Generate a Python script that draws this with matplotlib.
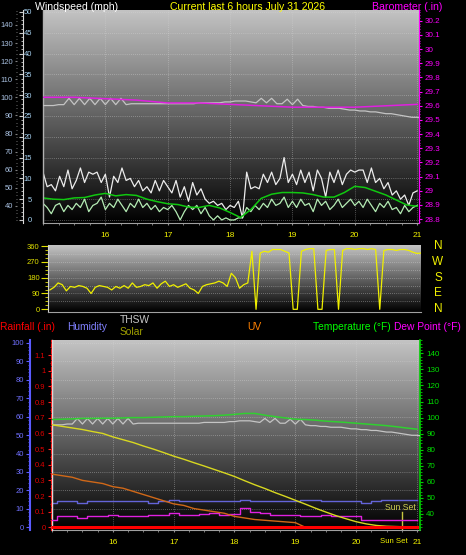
import numpy as np
import matplotlib
matplotlib.use('Agg')
import matplotlib.pyplot as plt
from matplotlib.ticker import MultipleLocator, FixedLocator, FuncFormatter
from matplotlib.colors import LinearSegmentedColormap
import matplotlib.transforms as mtransforms

plt.rcParams['font.family'] = ['Liberation Sans', 'DejaVu Sans']

# ---------------- data ----------------
title_left = 'Windspeed (mph)'
title_mid = 'Current last 6 hours July 31 2026'
title_right = 'Barometer (.in)'

hour_ticks = [16, 17, 18, 19, 20, 21]
hour_labels = ['16', '17', '18', '19', '20', '21']
sunset_time = 20.76
start_hour = 15.0

compass_labels = ['N', 'W', 'S', 'E', 'N']
compass_deg = [360, 270, 180, 90, 0]

# 4-minute samples
wind_gust = [11.5, 8, 8.5, 7, 10.5, 8, 12, 7.5, 9.5, 12.5, 9, 11.5, 11, 11.5, 9,
             11, 5.5, 10.5, 9, 12.5, 9.5, 10, 8, 9.5, 7, 8, 6.5, 9.5, 7, 9.5,
             8, 6.5, 9.5, 5.5, 8, 4.5, 9, 6, 7.5, 5, 4, 4.5, 3.5, 4, 2.5,
             3.5, 3, 4.5, 0.5, 11.5, 7.5, 8, 7.5, 11, 9, 11.5, 8.5, 10, 15, 9,
             11, 8.5, 12, 9, 11.5, 7, 12, 10, 5.5, 11.5, 9, 12, 8.5, 11, 12,
             11.5, 12, 12, 9, 12.5, 9, 10, 7.5, 9, 6, 7, 5, 6, 3.5, 6.5, 7]
wind_speed = [4, 3, 1.5, 3.5, 4, 2, 3.5, 2.5, 4, 3, 5, 2, 3.5, 4, 5.5,
              2.5, 4, 3, 5, 3.5, 2, 4, 3, 5, 3, 4, 2.5, 3.5, 2, 3,
              2.5, 3.5, 2, 0, 2, 3.5, 2.5, 3.5, 1.5, 3, 1, 0, 1, 0, 0.5,
              0, 0, 0.5, 0.5, 3, 2, 3.5, 2.5, 4, 3, 5, 3.5, 4, 5.5, 3,
              4.5, 3, 5, 3.5, 4, 2, 5, 3.5, 4.5, 2.5, 3.5, 5, 3, 4, 5,
              3.5, 4.5, 3, 5, 3.5, 2, 4, 3, 4.5, 2.5, 3, 1.5, 3.5, 2, 3, 3.5]
wind_dir = [110, 125, 150, 140, 105, 130, 125, 135, 130, 120, 90, 125, 135, 130, 125,
            110, 130, 120, 135, 120, 150, 125, 130, 140, 135, 150, 120, 145, 160, 130,
            140, 125, 135, 145, 120, 110, 90, 130, 140, 145, 150, 160, 150, 130, 205,
            180, 120, 140, 150, 330, 0, 320, 330, 325, 340, 340, 340, 330, 320, 0,
            0, 330, 340, 345, 345, 0, 0, 335, 340, 340, 0, 335, 345, 345, 340,
            345, 345, 340, 345, 340, 0, 335, 340, 340, 335, 340, 340, 335, 325, 318, 320]

# 10-minute samples
wind_avg = [5.3, 5.0, 4.9, 5.3, 5.4, 6.0, 6.4, 5.8, 6.1, 5.9, 5.0, 4.4, 3.9, 3.7, 3.1,
            3.0, 3.5, 2.9, 1.8, 0.6, 2.5, 5.2, 6.2, 6.6, 6.6, 6.5, 6.1, 5.5, 5.5, 6.6,
            8.1, 7.8, 6.9, 6.0, 4.8, 3.6, 3.3]
temperature = [98.8, 99.0, 99.2, 99.5, 99.5, 99.6, 99.6, 99.8, 100.0, 100.0, 100.2, 100.4,
               100.6, 100.6, 100.8, 101.0, 101.2, 101.5, 102.0, 102.6, 102.6, 101.5, 100.6,
               99.8, 99.0, 98.8, 98.4, 97.8, 97.4, 97.0, 96.5, 96.0, 95.5, 95.0, 94.3, 93.5, 92.8]
solar = [655, 645, 635, 625, 612, 600, 578, 560, 542, 520, 500, 478, 455, 435, 413, 392,
         370, 348, 325, 298, 272, 248, 222, 198, 173, 148, 122, 98, 75, 55, 36, 22, 12,
         7, 5, 3, 2]
uv_index = [3.4, 3.3, 3.2, 3.0, 2.9, 2.8, 2.6, 2.5, 2.3, 2.1, 1.9, 1.7, 1.5, 1.4, 1.2, 1.1,
            1.0, 0.9, 0.7, 0.6, 0.5, 0.45, 0.4, 0.35, 0.3, 0, 0, 0, 0, 0, 0, 0, 0, 0, 0, 0, 0]
humidity = [13, 14, 14, 13, 14, 14, 14, 14, 14, 14, 13, 14, 15, 14, 14, 14, 14, 14, 14,
            15, 14, 14, 14, 14, 14, 15, 15, 14, 14, 14, 14, 13, 14, 15, 15, 15, 15]
dew_point = [36.5, 38.5, 38.5, 37.5, 38.5, 39.0, 39.5, 39.0, 39.0, 39.0, 39.5, 39.5, 40.5,
             39.5, 39.5, 40.0, 40.5, 39.5, 40.0, 43.5, 41.0, 40.5, 39.5, 39.5, 39.5, 39.0,
             39.0, 39.5, 39.0, 38.5, 38.5, 36.5, 36.0, 36.0, 36.0, 36.5, 36.5]

# 30-minute samples
barometer = [29.66, 29.66, 29.65, 29.64, 29.62, 29.62, 29.61, 29.60, 29.59, 29.59,
             29.59, 29.60, 29.61]

# 5-minute samples
thsw = [95.5, 95.5, 95.5, 96, 96, 99.5, 96, 99.5, 96, 99.5, 96, 99.5, 96,
        99.5, 96, 99.5, 96, 96.5, 96.5, 96.5, 96.5, 96.5, 96.5, 96.5, 96.5,
        96.5, 96.5, 96.5, 96.5, 96.5, 97, 97, 97, 97, 97, 97.5, 97.5,
        98, 98, 98, 97.5, 97, 99.5, 97, 99.5, 96.5, 96.5, 99, 96,
        99, 95.5, 95, 95, 94.5, 94.5, 94, 94, 94, 93.5, 93, 93, 92.5,
        92.5, 92, 92, 91.5, 91, 91, 90.5, 90, 89.5, 89, 89, 88.5]

# hourly
rain_hours = [15, 16, 17, 18, 19, 20, 21]
rainfall = [0, 0, 0, 0, 0, 0, 0]

t4 = start_hour + np.arange(len(wind_gust)) * 4 / 60
t5 = start_hour + np.arange(len(thsw)) * 5 / 60
t10 = start_hour + np.arange(len(wind_avg)) * 10 / 60
t30 = start_hour + np.arange(len(barometer)) * 30 / 60

# ---------------- figure ----------------
W, H = 466, 555
PT = 0.72  # points per pixel at 100 dpi
fig = plt.figure(figsize=(W / 100, H / 100), dpi=100)
fig.patch.set_facecolor('black')


def rect(x0, y0, x1, y1):
    return [x0 / W, 1 - y1 / H, (x1 - x0) / W, (y1 - y0) / H]


bg_cmap = LinearSegmentedColormap.from_list('bg', ['#000000', '#c4c4c4'])


def add_bg(ax):
    g = np.linspace(0, 1, 256).reshape(-1, 1)
    ax.imshow(g, extent=[0, 1, 0, 1], transform=ax.transAxes, origin='lower',
              aspect='auto', cmap=bg_cmap, zorder=0, interpolation='bilinear')


def left_frame(ax, color):
    ax.plot([0, 0], [0, 1], transform=ax.transAxes, color=color, lw=1.0,
            clip_on=False, zorder=6)


GRID = dict(color='#d8d8d8', lw=0.5, ls=(0, (1, 2)), alpha=0.7)
TFS = 5.5
fmt_g = FuncFormatter(lambda v, p: f'{round(v, 2):g}')

# ---- panel 1 : wind speed / barometer ----
ax1 = fig.add_axes(rect(43, 9.5, 419, 223.3))
ax1.set_facecolor('black')
add_bg(ax1)
ax1.plot(t4, wind_speed, color='#b4ecb4', lw=0.9, zorder=3)
ax1.plot(t4, wind_gust, color='#ececec', lw=0.9, zorder=3)
ax1.plot(t10, wind_avg, color='#10c810', lw=1.1, zorder=4)
ax1.set_xlim(15.0, 21.03)
ax1.set_ylim(-0.8, 50.6)
ax1.xaxis.set_major_locator(FixedLocator(hour_ticks))
ax1.set_xticklabels(hour_labels)
ax1.xaxis.set_minor_locator(MultipleLocator(0.25))
ax1.yaxis.set_major_locator(MultipleLocator(5))
ax1.yaxis.set_minor_locator(MultipleLocator(1))
ax1.grid(True, which='major', **GRID)
for s in ['top', 'right']:
    ax1.spines[s].set_visible(False)
ax1.spines['left'].set_position(('outward', 20 * PT))
ax1.spines['left'].set_color('#d8d8d8')
ax1.spines['bottom'].set_color('#a0a0a0')
ax1.tick_params(axis='x', which='both', colors='#909090', labelcolor='#f0f000',
                labelsize=6, length=1.5, pad=4.5)
ax1.tick_params(axis='y', which='major', colors='#c8c8c8', labelcolor='#a8d4f4',
                labelsize=TFS, length=3, direction='out', pad=-9.5)
ax1.tick_params(axis='y', which='minor', colors='#c8c8c8', length=1.5, direction='out')
left_frame(ax1, '#b0b0b0')

ax1b = ax1.twinx()
ax1b.plot(t5, thsw, color='#c4c4c4', lw=0.9, zorder=3)
ax1b.set_ylim(30.44, 148.56)
ax1b.yaxis.tick_left()
ax1b.spines['left'].set_position(('outward', 26 * PT))
for s in ax1b.spines.values():
    s.set_visible(False)
ax1b.yaxis.set_major_locator(MultipleLocator(10))
ax1b.yaxis.set_minor_locator(MultipleLocator(2))
ax1b.tick_params(axis='y', which='major', colors='#808080', labelcolor='#a8c0e0',
                 labelsize=TFS, length=1.5, pad=1.5)
ax1b.tick_params(axis='y', which='minor', colors='#808080', length=1)

ax1c = ax1.twinx()
ax1c.plot(t30, barometer, color='#e020e0', lw=1.1, zorder=4)
ax1c.set_ylim(28.77, 30.28)
for s in ['left', 'top', 'bottom']:
    ax1c.spines[s].set_visible(False)
ax1c.spines['right'].set_color('#ff00ff')
ax1c.yaxis.set_major_locator(MultipleLocator(0.1))
ax1c.yaxis.set_minor_locator(MultipleLocator(0.02))
ax1c.yaxis.set_major_formatter(fmt_g)
ax1c.tick_params(axis='y', which='major', colors='#ff00ff', labelcolor='#ff00ff',
                 labelsize=5.8, length=2, pad=2)
ax1c.tick_params(axis='y', which='minor', colors='#ff00ff', length=1)

fig.text(35 / W, 1 - 9.5 / H, title_left, color='white', fontsize=7.6, ha='left', va='baseline')
fig.text(248 / W, 1 - 9.5 / H, title_mid, color='#ffff00', fontsize=7.6, ha='center', va='baseline')
fig.text(372 / W, 1 - 9.5 / H, title_right, color='#ff00ff', fontsize=7.6, ha='left', va='baseline')

# ---- panel 2 : wind direction ----
ax2 = fig.add_axes(rect(48, 245, 421, 311.7))
ax2.set_facecolor('black')
add_bg(ax2)
ax2.plot(t4, wind_dir, color='#f0f000', lw=0.9, zorder=3)
ax2.set_xlim(14.97, 21.0)
ax2.set_ylim(-13.6, 365.7)
ax2.set_yticks([0, 90, 180, 270, 360])
ax2.yaxis.set_minor_locator(MultipleLocator(22.5))
ax2.set_xticks([])
for lvl in [45, 90, 135, 180, 225, 270, 315]:
    ax2.axhline(lvl, **GRID)
for s in ['top', 'right']:
    ax2.spines[s].set_visible(False)
ax2.spines['left'].set_color('#d0d0d0')
ax2.spines['bottom'].set_color('#a0a0a0')
ax2.tick_params(axis='y', which='major', colors='#e0e000', labelcolor='#e0e000',
                labelsize=TFS, length=5, pad=1)
ax2.tick_params(axis='y', which='minor', colors='#e0e000', length=2.5)
btr = mtransforms.blended_transform_factory(ax2.transAxes, ax2.transData)
for lab, deg in zip(compass_labels, compass_deg):
    ax2.text(1.0456, deg, lab, transform=btr, color='#f0f000', fontsize=8.5,
             ha='center', va='center', clip_on=False)

# ---- panel 3 : temperature, humidity, rain, solar, uv ----
ax3 = fig.add_axes(rect(52, 340, 420, 530))
ax3.set_facecolor('black')
add_bg(ax3)
ax3.plot(t10, humidity, color='#6464d8', lw=1.0, drawstyle='steps-mid', zorder=3)
ax3.set_xlim(15.0, 21.05)
ax3.set_ylim(-1.5, 101.6)
ax3.xaxis.set_major_locator(FixedLocator(hour_ticks))
ax3.set_xticklabels(hour_labels)
ax3.xaxis.set_minor_locator(MultipleLocator(0.25))
ax3.yaxis.set_major_locator(MultipleLocator(10))
ax3.yaxis.set_minor_locator(MultipleLocator(2))
ax3.grid(True, which='major', **GRID)
for s in ['top', 'right']:
    ax3.spines[s].set_visible(False)
ax3.spines['left'].set_position(('outward', 22 * PT))
ax3.spines['left'].set_color('#5a5aff')
ax3.spines['left'].set_linewidth(1.5)
ax3.spines['bottom'].set_color('#a0a0a0')
ax3.tick_params(axis='x', which='both', colors='#909090', labelcolor='#f0f000',
                labelsize=6, length=1.5, pad=5)
ax3.tick_params(axis='y', which='major', colors='#5a5aff', labelcolor='#7070ff',
                labelsize=TFS, length=3, pad=1.5)
ax3.tick_params(axis='y', which='minor', colors='#5a5aff', length=1.5)
left_frame(ax3, '#e0e0e0')

ax3.axvline(sunset_time, ymin=0, ymax=0.095, color='#c8c840', lw=1.0, zorder=4)
ax3.text(sunset_time - 0.04, 0.116, 'Sun Set',
         transform=mtransforms.blended_transform_factory(ax3.transData, ax3.transAxes),
         color='#d0d050', fontsize=6.2, ha='center', va='center', zorder=5)
ax3.annotate('Sun Set', xy=(sunset_time, 0), xycoords=('data', 'axes fraction'),
             xytext=(4.2, -8.6), textcoords='offset points', ha='right', va='center',
             color='#f0f000', fontsize=5.6, annotation_clip=False)

ax3t = ax3.twinx()
ax3t.plot(t5, thsw, color='#c4c4c4', lw=0.9, zorder=3)
ax3t.plot(t10, temperature, color='#30d030', lw=1.1, zorder=4)
ax3t.plot(t10, dew_point, color='#e020e0', lw=1.0, drawstyle='steps-mid', zorder=4)
ax3t.set_ylim(30.04, 148.3)
for s in ['left', 'top', 'bottom']:
    ax3t.spines[s].set_visible(False)
ax3t.spines['right'].set_color('#00d000')
ax3t.spines['right'].set_linewidth(1.2)
ax3t.yaxis.set_major_locator(MultipleLocator(10))
ax3t.yaxis.set_minor_locator(MultipleLocator(2))
ax3t.tick_params(axis='y', which='major', colors='#00d000', labelcolor='#00e000',
                 labelsize=5.8, length=2.5, pad=2)
ax3t.tick_params(axis='y', which='minor', colors='#00d000', length=1.5)

ax3s = ax3.twinx()
ax3s.plot(t10, solar, color='#d8d820', lw=1.0, zorder=3)
ax3s.set_ylim(-17, 1197)
ax3s.axis('off')

ax3u = ax3.twinx()
ax3u.plot(t10, uv_index, color='#d06818', lw=1.0, zorder=3)
ax3u.set_ylim(-0.17, 11.97)
ax3u.axis('off')

ax3r = ax3.twinx()
ax3r.plot(rain_hours, rainfall, color='#ff0000', lw=2.2, zorder=6)
ax3r.set_ylim(-0.017, 1.197)
ax3r.yaxis.tick_left()
for s in ['right', 'top', 'bottom']:
    ax3r.spines[s].set_visible(False)
ax3r.spines['left'].set_position(('outward', 1 * PT))
ax3r.spines['left'].set_color('#ff2020')
ax3r.spines['left'].set_linestyle('--')
ax3r.yaxis.set_major_locator(MultipleLocator(0.1))
ax3r.yaxis.set_minor_locator(MultipleLocator(0.05))
ax3r.yaxis.set_major_formatter(fmt_g)
ax3r.tick_params(axis='y', which='major', colors='#ff2020', labelcolor='#e00000',
                 labelsize=TFS, length=2, pad=2)
ax3r.tick_params(axis='y', which='minor', colors='#ff2020', length=1)

legend_items = [('Rainfall (.in)', '#ff0000', 0, 330.5),
                ('Humidity', '#8080ff', 67, 330.5),
                ('THSW', '#c8c8c8', 120, 323.3),
                ('Solar', '#a0a000', 120, 335),
                ('UV', '#ff8000', 247, 330.5),
                ('Temperature (°F)', '#00ff00', 313, 330.5),
                ('Dew Point (°F)', '#ff00ff', 394, 330.5)]
for txt, col, x, y in legend_items:
    fig.text(x / W, 1 - y / H, txt, color=col, fontsize=7.4, ha='left', va='baseline')

fig.savefig('out.png', dpi=100, facecolor='black')
